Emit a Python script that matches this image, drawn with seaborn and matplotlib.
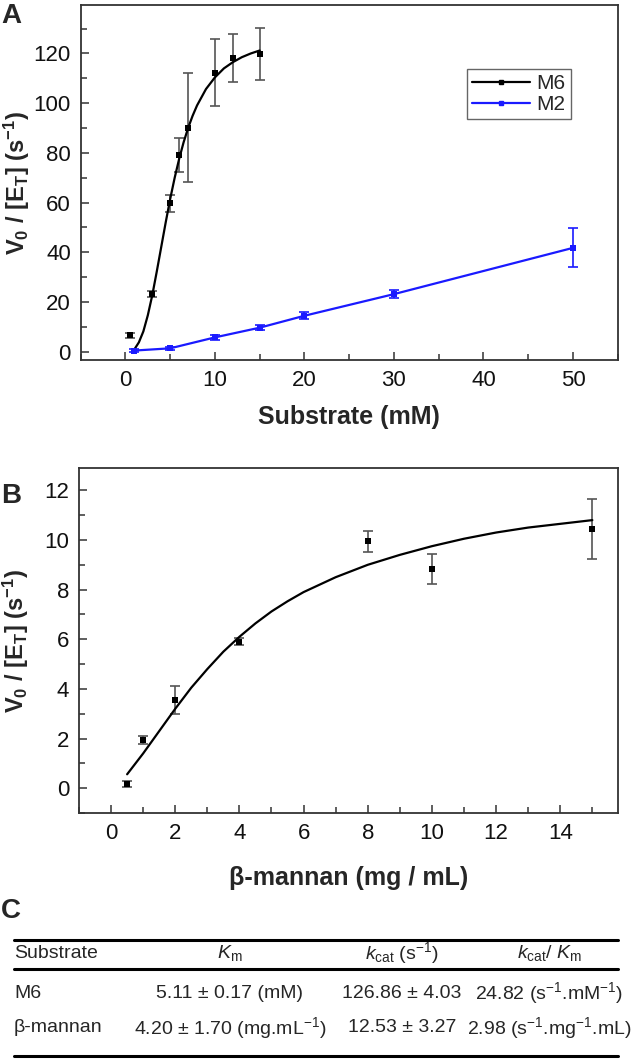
import matplotlib
matplotlib.use('Agg')
import seaborn as sns
import pandas as pd
import numpy as np
import matplotlib.pyplot as plt
from matplotlib.lines import Line2D
from matplotlib.ticker import MultipleLocator

# panel A: M6 / M2 kinetics
m6_x = [0.5, 3, 5, 6, 7, 10, 12, 15]
m6_y = [6.7, 23.2, 59.7, 79.1, 90.2, 112.3, 118.2, 119.7]
m6_err = [1.0, 1.2, 3.5, 6.7, 21.8, 13.4, 9.6, 10.4]
m6_fit_x = [1.0, 1.5, 2.0, 2.5, 3.0, 3.5, 4.0, 4.5, 5.0, 5.5, 6.0, 6.5, 7.0, 7.5, 8.0, 9.0, 10.0, 11.0, 12.0, 13.0, 14.0, 15.0]
m6_fit_y = [1.0, 3.8, 8.2, 14.7, 22.8, 32.3, 42.2, 52.1, 61.5, 70.0, 77.6, 84.3, 90.0, 94.9, 99.1, 105.7, 110.4, 114.0, 116.5, 118.5, 120.0, 121.2]

m2_x = [1, 5, 10, 15, 20, 30, 50]
m2_y = [0.5, 1.4, 5.8, 9.7, 14.5, 23.2, 41.8]
m2_err = [0.5, 0.7, 1.0, 1.0, 1.5, 1.5, 7.8]

# panel B: beta-mannan
mannan_x = [0.5, 1, 2, 4, 8, 10, 15]
mannan_y = [0.18, 1.95, 3.55, 5.9, 9.95, 8.83, 10.45]
mannan_err = [0.12, 0.15, 0.55, 0.15, 0.43, 0.62, 1.22]
mannan_fit_x = [0.5, 1.0, 1.5, 2.0, 2.5, 3.0, 3.5, 4.0, 4.5, 5.0, 5.5, 6.0, 7.0, 8.0, 9.0, 10.0, 11.0, 12.0, 13.0, 14.0, 15.0]
mannan_fit_y = [0.56, 1.4, 2.3, 3.2, 4.05, 4.8, 5.5, 6.1, 6.64, 7.12, 7.53, 7.9, 8.5, 9.0, 9.4, 9.75, 10.05, 10.3, 10.5, 10.65, 10.8]

# panel C: table
table_header = ['Substrate', r'$K_\mathrm{m}$', r'$k_\mathrm{cat}$ (s$^{-1}$)', r'$k_\mathrm{cat}$/ $K_\mathrm{m}$']
table_rows = [
    ['M6', '5.11 ± 0.17 (mM)', '126.86 ± 4.03', r'24.82 (s$^{-1}$.mM$^{-1}$)'],
    ['β-mannan', r'4.20 ± 1.70 (mg.mL$^{-1}$)', '12.53 ± 3.27', r'2.98 (s$^{-1}$.mg$^{-1}$.mL)'],
]

sns.set_style("ticks")
plt.rcParams['font.family'] = ['Liberation Sans', 'DejaVu Sans']
plt.rcParams['mathtext.fontset'] = 'custom'
plt.rcParams['mathtext.rm'] = 'Liberation Sans'
plt.rcParams['mathtext.it'] = 'Liberation Sans:italic'
plt.rcParams['mathtext.bf'] = 'Liberation Sans:bold'

W, H = 633, 1059
fig = plt.figure(figsize=(W / 100, H / 100), dpi=100)

def fx(px):
    return px / W

def fy(py):
    return 1 - py / H

BLUE = '#1a1aff'
GREY = '#555555'
ylab = r'$\mathbf{V_0\ /\ [E_T]\ (s^{-1})}$'


def style_axes(ax):
    for sp in ax.spines.values():
        sp.set_color('#333333')
        sp.set_linewidth(1.3)
    ax.tick_params(which='both', direction='in', colors='#333333', labelcolor='#111111',
                   labelsize=16, width=1.1, pad=7, top=False, right=False)
    ax.tick_params(which='major', length=6)
    ax.tick_params(which='minor', length=4)


# ---- A ----
axA = fig.add_axes([fx(80.7), fy(360), fx(617.7) - fx(80.7), fy(5) - fy(360)])
axA.errorbar(m6_x, m6_y, yerr=m6_err, fmt='none', ecolor=GREY, elinewidth=1.2, capsize=3.5, capthick=1.2)
axA.errorbar(m2_x, m2_y, yerr=m2_err, fmt='none', ecolor=BLUE, elinewidth=1.2, capsize=3.5, capthick=1.2)
sns.lineplot(x=m6_fit_x, y=m6_fit_y, ax=axA, color='black', linewidth=1.6)
sns.lineplot(x=m2_x, y=m2_y, ax=axA, color=BLUE, linewidth=1.6)
sns.scatterplot(x=m6_x, y=m6_y, ax=axA, color='black', marker='s', s=16, edgecolor='black', linewidth=0, zorder=5)
sns.scatterplot(x=m2_x, y=m2_y, ax=axA, color=BLUE, marker='s', s=16, edgecolor=BLUE, linewidth=0, zorder=5)
axA.set_xlim(-5, 55)
axA.set_ylim(-3.3, 139.5)
axA.xaxis.set_major_locator(MultipleLocator(10))
axA.xaxis.set_minor_locator(MultipleLocator(5))
axA.yaxis.set_major_locator(MultipleLocator(20))
axA.yaxis.set_minor_locator(MultipleLocator(10))
style_axes(axA)
axA.set_xlabel('Substrate (mM)', fontsize=18, fontweight='bold', labelpad=10)
axA.set_ylabel(ylab, fontsize=17, labelpad=1)
handles = [Line2D([], [], color='black', marker='s', markersize=3.5, lw=1.6),
           Line2D([], [], color=BLUE, marker='s', markersize=3.5, lw=1.6)]
leg = axA.legend(handles, ['M6', 'M2'], loc='upper left', bbox_to_anchor=(0.719, 0.82),
                 frameon=True, fancybox=False, framealpha=1, edgecolor='#666666',
                 fontsize=15, handlelength=2.8, handletextpad=0.3, borderpad=0.25,
                 labelspacing=0.1, borderaxespad=0)
leg.get_frame().set_linewidth(1.0)

# ---- B ----
axB = fig.add_axes([fx(79), fy(813), fx(618) - fx(79), fy(468) - fy(813)])
axB.errorbar(mannan_x, mannan_y, yerr=mannan_err, fmt='none', ecolor=GREY, elinewidth=1.2, capsize=3.5, capthick=1.2)
sns.lineplot(x=mannan_fit_x, y=mannan_fit_y, ax=axB, color='black', linewidth=1.6)
sns.scatterplot(x=mannan_x, y=mannan_y, ax=axB, color='black', marker='s', s=16, linewidth=0, zorder=5)
axB.set_xlim(-1, 15.8)
axB.set_ylim(-1, 12.9)
axB.xaxis.set_major_locator(MultipleLocator(2))
axB.xaxis.set_minor_locator(MultipleLocator(1))
axB.yaxis.set_major_locator(MultipleLocator(2))
axB.yaxis.set_minor_locator(MultipleLocator(1))
style_axes(axB)
axB.set_xlabel('β-mannan (mg / mL)', fontsize=18, fontweight='bold', labelpad=16)
axB.set_ylabel(ylab, fontsize=17, labelpad=10)

# panel letters
fig.text(fx(1), fy(16), 'A', fontsize=20, fontweight='bold', va='center', ha='left')
fig.text(fx(1), fy(496), 'B', fontsize=20, fontweight='bold', va='center', ha='left')
fig.text(fx(1), fy(911), 'C', fontsize=20, fontweight='bold', va='center', ha='left')

# ---- C: table ----
for py in [940, 969, 1056]:
    fig.add_artist(Line2D([fx(14), fx(618)], [fy(py), fy(py)], transform=fig.transFigure,
                          color='black', linewidth=2.2))
col_x = [14, 230, 402, 549]
col_ha = ['left', 'center', 'center', 'center']
row_y = [953, 993, 1028]
for j, txt in enumerate(table_header):
    fig.text(fx(col_x[j]), fy(row_y[0]), txt, fontsize=14, ha=col_ha[j], va='center')
for i, row in enumerate(table_rows):
    for j, txt in enumerate(row):
        fig.text(fx(col_x[j]), fy(row_y[i + 1]), txt, fontsize=14, ha=col_ha[j], va='center')

fig.savefig('out.png', dpi=100)
